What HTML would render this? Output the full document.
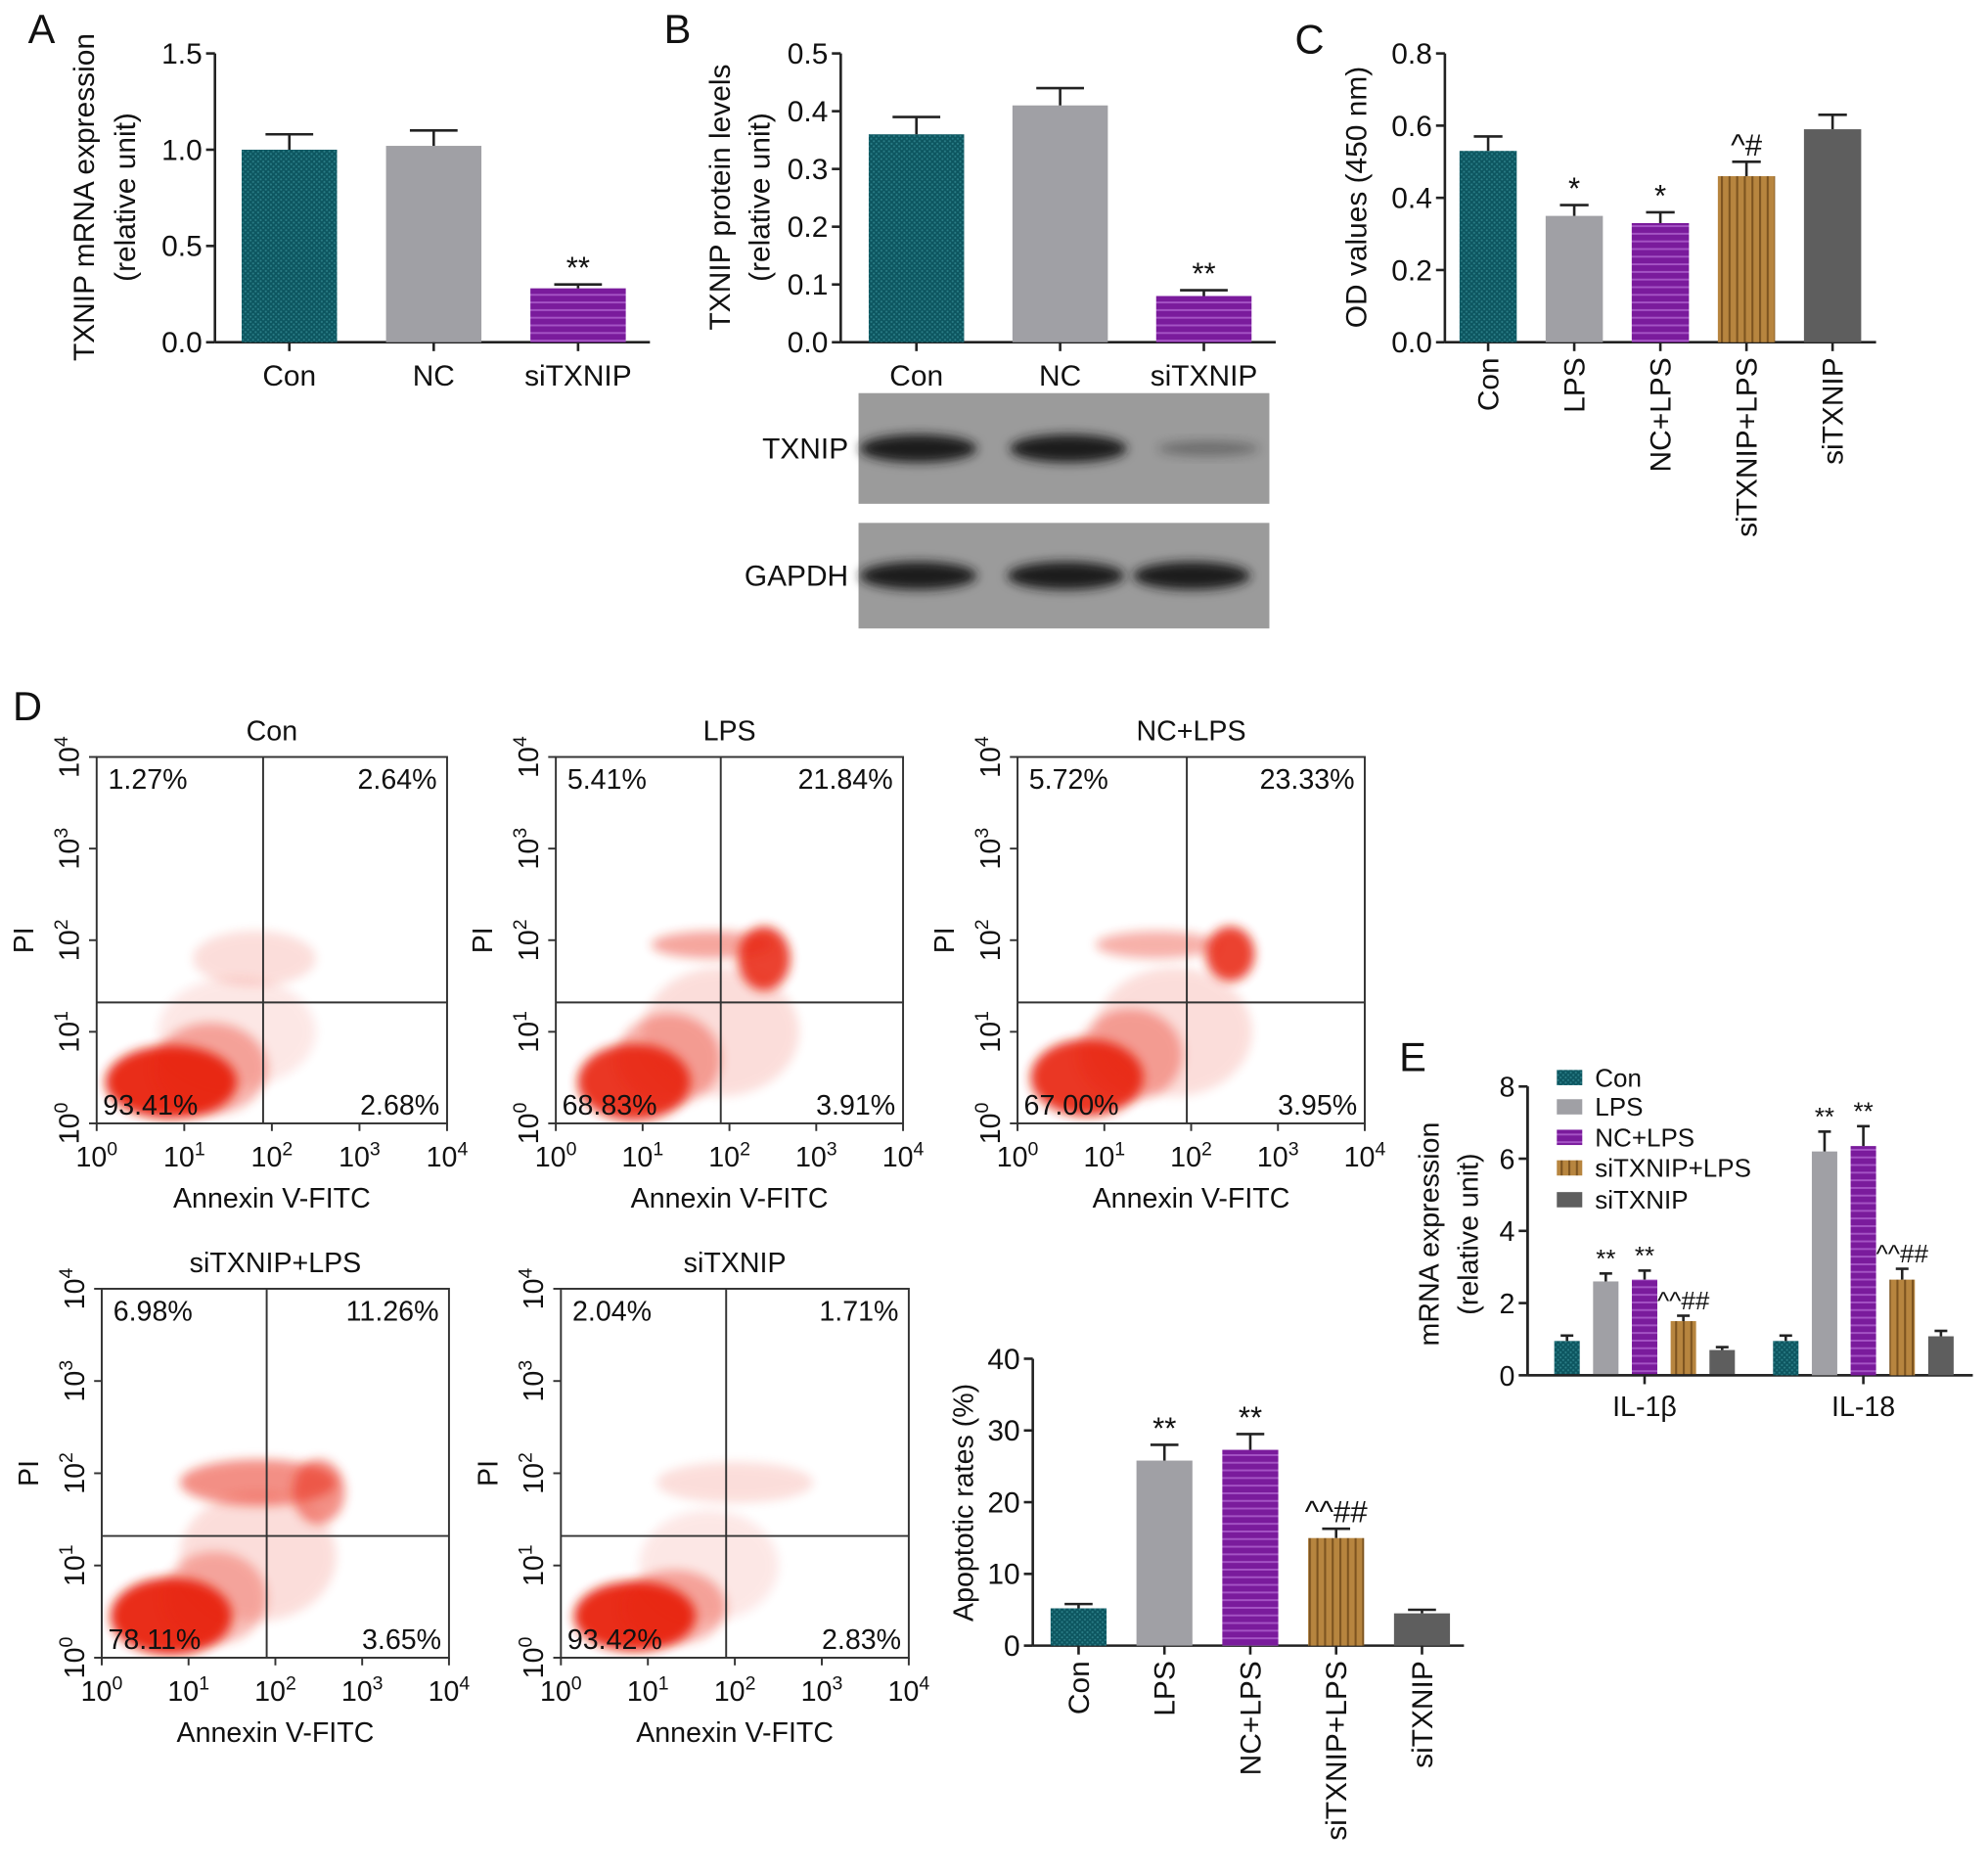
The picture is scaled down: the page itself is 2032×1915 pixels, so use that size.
<!DOCTYPE html>
<html><head><meta charset="utf-8"><style>
html,body{margin:0;padding:0;background:#fff}
svg{display:block}
text{font-family:"Liberation Sans",Arial,sans-serif;fill:#111}
</style></head><body>
<svg id="fig" xmlns="http://www.w3.org/2000/svg" width="2032" height="1915" viewBox="0 0 1563 1473">
<defs>
<pattern id="pTeal" width="4" height="4" patternUnits="userSpaceOnUse"><rect width="4" height="4" fill="#0d5660"/><circle cx="1" cy="1" r="0.8" fill="#2a7d86"/><circle cx="3" cy="3" r="0.8" fill="#2a7d86"/></pattern>
<pattern id="pPurple" width="6" height="6" patternUnits="userSpaceOnUse"><rect width="6" height="6" fill="#7a1b9c"/><rect y="3" width="6" height="1.5" fill="#a453c4"/></pattern>
<pattern id="pBrown" width="6" height="6" patternUnits="userSpaceOnUse"><rect width="6" height="6" fill="#b7853f"/><rect x="3" width="1.6" height="6" fill="#7d5420"/></pattern>
<filter id="blur" x="-50%" y="-50%" width="200%" height="200%"><feGaussianBlur stdDeviation="4"/></filter>
<filter id="blur2" x="-50%" y="-50%" width="200%" height="200%"><feGaussianBlur stdDeviation="4"/></filter>
</defs>
</svg>
<script>
// ---------- data ----------
const aCats = ['Con','NC','siTXNIP'];
const aVals = [1.0, 1.02, 0.28];
const aErrs = [0.08, 0.08, 0.02];
const aMarks = ['', '', '**'];
const aTicks = [0, 0.5, 1.0, 1.5];
const aTickLabels = ['0.0','0.5','1.0','1.5'];

const bCats = ['Con','NC','siTXNIP'];
const bVals = [0.36, 0.41, 0.08];
const bErrs = [0.03, 0.03, 0.01];
const bMarks = ['', '', '**'];
const bTicks = [0, 0.1, 0.2, 0.3, 0.4, 0.5];
const bTickLabels = ['0.0','0.1','0.2','0.3','0.4','0.5'];

const groups5 = ['Con','LPS','NC+LPS','siTXNIP+LPS','siTXNIP'];
const cVals = [0.53, 0.35, 0.33, 0.46, 0.59];
const cErrs = [0.04, 0.03, 0.03, 0.04, 0.04];
const cMarks = ['', '*', '*', '^#', ''];
const cTicks = [0, 0.2, 0.4, 0.6, 0.8];
const cTickLabels = ['0.0','0.2','0.4','0.6','0.8'];

const apVals = [5.2, 25.8, 27.3, 15.0, 4.5];
const apErrs = [0.6, 2.2, 2.2, 1.3, 0.5];
const apMarks = ['', '**', '**', '^^##', ''];
const apTicks = [0, 10, 20, 30, 40];
const apTickLabels = ['0','10','20','30','40'];

const eGenes = ['IL-1β','IL-18'];
const eIL1b = [0.95, 2.6, 2.65, 1.5, 0.7];
const eIL1bErr = [0.15, 0.22, 0.25, 0.15, 0.08];
const eIL18 = [0.95, 6.2, 6.35, 2.65, 1.08];
const eIL18Err = [0.15, 0.55, 0.55, 0.3, 0.15];
const eMarks = ['', '**', '**', '^^##', ''];
const eTicks = [0, 2, 4, 6, 8];
const eTickLabels = ['0','2','4','6','8'];

const flowTitles = ['Con','LPS','NC+LPS','siTXNIP+LPS','siTXNIP'];
const flowUL = ['1.27%','5.41%','5.72%','6.98%','2.04%'];
const flowUR = ['2.64%','21.84%','23.33%','11.26%','1.71%'];
const flowLL = ['93.41%','68.83%','67.00%','78.11%','93.42%'];
const flowLR = ['2.68%','3.91%','3.95%','3.65%','2.83%'];
const flowGateX = [1.9, 1.9, 1.95, 1.9, 1.9];
const flowGateY = [1.32, 1.32, 1.32, 1.32, 1.32];
// clusters: [cx(log), cy(log), rx(log), ry(log), opacity]
const flowClusters = [
 [[0.85,0.45,0.75,0.4,0.95],[1.3,0.6,0.65,0.5,0.35],[1.8,1.8,0.7,0.3,0.15],[1.6,1.0,0.9,0.6,0.1]],
 [[0.9,0.45,0.65,0.42,0.9],[1.3,0.7,0.6,0.5,0.35],[2.4,1.8,0.3,0.35,0.85],[1.8,1.95,0.7,0.15,0.4],[1.9,1.0,0.9,0.7,0.15]],
 [[0.8,0.5,0.65,0.42,0.9],[1.3,0.75,0.6,0.5,0.35],[2.45,1.85,0.28,0.3,0.85],[1.6,1.95,0.7,0.15,0.35],[1.8,1.0,0.9,0.7,0.15]],
 [[0.8,0.45,0.7,0.42,0.95],[1.3,0.65,0.6,0.5,0.3],[1.8,1.9,0.9,0.25,0.5],[2.5,1.8,0.3,0.35,0.5],[1.8,1.1,0.9,0.7,0.15]],
 [[0.85,0.45,0.7,0.38,0.95],[1.3,0.55,0.6,0.4,0.35],[2.0,1.9,0.9,0.22,0.15],[1.7,1.0,0.8,0.6,0.1]]
];

// ---------- helpers ----------
const NS='http://www.w3.org/2000/svg';
const svg=document.getElementById('fig');
function mk(tag, attrs, parent){const e=document.createElementNS(NS,tag);for(const k in attrs)e.setAttribute(k,attrs[k]);(parent||svg).appendChild(e);return e;}
function txt(x,y,s,size,anchor,parent,extra){const t=mk('text',Object.assign({x:x,y:y,'font-size':size,'text-anchor':anchor||'middle'},extra||{}),parent);t.textContent=s;return t;}
const fills=['url(#pTeal)','#a0a0a5','url(#pPurple)','url(#pBrown)','#5e5e5e'];

function barChart(o){
  const g=mk('g',{});
  
  
  const yS=v=>o.bottom-(v/o.max)*(o.bottom-o.top);
  const xS=i=>o.start+i*o.step;
  const ya=mk('line',{x1:o.axisX,y1:o.top,x2:o.axisX,y2:o.bottom,stroke:'#222','stroke-width':2},g);
  
  
  const xa=mk('line',{x1:o.axisX,y1:o.bottom,x2:o.right,y2:o.bottom,stroke:'#222','stroke-width':2},g);
  
  
  o.ticks.forEach((t,i)=>{
    mk('line',{x1:o.axisX-7,y1:yS(t),x2:o.axisX,y2:yS(t),stroke:'#222','stroke-width':2},g);
    const tl=txt(o.axisX-10,yS(t)+8,o.tickLabels[i],o.fs,'end',g);
    
    
  });
  o.vals.forEach((v,i)=>{
    const cx=xS(i)+(o.offset||0);
    const r=mk('rect',{x:cx-o.w/2,y:yS(v),width:o.w,height:o.bottom-yS(v),fill:o.fills[i]},g);
    
    
    const et=yS(v+o.errs[i]);
    mk('line',{x1:cx,y1:yS(v),x2:cx,y2:et,stroke:'#222','stroke-width':2},g);
    mk('line',{x1:cx-o.w/4,y1:et,x2:cx+o.w/4,y2:et,stroke:'#222','stroke-width':2},g);
    if(o.marks[i]){const m=txt(cx,et-5,o.marks[i],o.mfs||24,'middle',g);
      
      }
    if(o.tickX){mk('line',{x1:cx,y1:o.bottom,x2:cx,y2:o.bottom+7,stroke:'#222','stroke-width':2},g);}
    if(o.catMode==='h'){const c=txt(cx,o.bottom+34,o.cats[i],o.fs,'middle',g);
      
      }
    else if(o.catMode==='v'){const c=txt(0,0,o.cats[i],o.fs,'end',g,{transform:`translate(${cx+8},${o.bottom+12}) rotate(-90)`});
      
      }
  });
  return g;
}

// ---------- panel letters ----------
[['A',22,34],['B',522,34],['C',1018,42],['D',10,566],['E',1100,842]].forEach(p=>{
  const l=txt(p[1],p[2],p[0],32,'start');
  
  
});

// ---------- A ----------
barChart({name:'chart-a-mrna',axisX:169,top:42,bottom:269,right:511,max:1.5,ticks:aTicks,tickLabels:aTickLabels,
  start:227.5,step:113.5,w:75,vals:aVals,errs:aErrs,marks:aMarks,cats:aCats,fills:[fills[0],fills[1],fills[2]],fs:23,catMode:'h',tickX:true});
let t=txt(0,0,'TXNIP mRNA expression',23,'middle',svg,{transform:'translate(74,155) rotate(-90)'});


t=txt(0,0,'(relative unit)',23,'middle',svg,{transform:'translate(106,155) rotate(-90)'});



// ---------- B ----------
barChart({name:'chart-b-protein',axisX:661,top:42,bottom:269,right:1003,max:0.5,ticks:bTicks,tickLabels:bTickLabels,
  start:720.5,step:113,w:75,vals:bVals,errs:bErrs,marks:bMarks,cats:bCats,fills:[fills[0],fills[1],fills[2]],fs:23,catMode:'h',tickX:true});
t=txt(0,0,'TXNIP protein levels',23,'middle',svg,{transform:'translate(574,155) rotate(-90)'});


t=txt(0,0,'(relative unit)',23,'middle',svg,{transform:'translate(605,155) rotate(-90)'});


const blotBands=[[722,840,950],[722,838,937]];
const blotAlpha=[[1,1,0.35],[1,1,1]];
[['TXNIP',309,396],['GAPDH',411,494]].forEach((b,bi)=>{
  const r=mk('rect',{x:675,y:b[1],width:323,height:b[2]-b[1],fill:'#9b9b9b'});
  
  
  blotBands[bi].forEach((cx,k)=>{
    const e=mk('ellipse',{cx:cx,cy:(b[1]+b[2])/2,rx:bi===0&&k===2?40:46,ry:bi===0&&k===2?6:11,fill:'#1a1a1a',opacity:blotAlpha[bi][k],filter:'url(#blur)'});
    
    
  });
  const l=txt(667,(b[1]+b[2])/2+8,b[0],23,'end');
  
  
});

// ---------- C ----------
barChart({name:'chart-c-od',axisX:1136,top:42,bottom:269,right:1475,max:0.8,ticks:cTicks,tickLabels:cTickLabels,
  start:1170,step:67.7,w:45,vals:cVals,errs:cErrs,marks:cMarks,cats:groups5,fills:fills,fs:23,catMode:'v',tickX:true});
t=txt(0,0,'OD values (450 nm)',23,'middle',svg,{transform:'translate(1074,155) rotate(-90)'});



// ---------- D flow plots ----------
const flowBoxes=[[76,595,351.5,883],[437,595,710,883],[800,595,1073,883],[80,1013,353,1303],[441,1013,714.5,1303]];
flowTitles.forEach((title,p)=>{
  const [x0,y0,x1,y1]=flowBoxes[p];
  const g=mk('g',{});
  
  
  const xS=v=>x0+v/4*(x1-x0), yS=v=>y1-v/4*(y1-y0);
  const cp=mk('clipPath',{id:'clip'+p},g);
  mk('rect',{x:x0,y:y0,width:x1-x0,height:y1-y0},cp);
  const cg=mk('g',{'clip-path':`url(#clip${p})`},g);
  flowClusters[p].forEach(c=>{
    const e=mk('ellipse',{cx:xS(c[0]),cy:yS(c[1]),rx:c[2]/4*(x1-x0),ry:c[3]/4*(y1-y0),fill:'#e8210b',opacity:c[4],filter:'url(#blur2)'},cg);
    
    
  });
  const b=mk('rect',{x:x0,y:y0,width:x1-x0,height:y1-y0,fill:'none',stroke:'#333','stroke-width':1.5},g);
  
  
  const gv=mk('line',{x1:xS(flowGateX[p]),y1:y0,x2:xS(flowGateX[p]),y2:y1,stroke:'#333','stroke-width':1.5},g);
  
  
  const gh=mk('line',{x1:x0,y1:yS(flowGateY[p]),x2:x1,y2:yS(flowGateY[p]),stroke:'#333','stroke-width':1.5},g);
  
  
  for(let k=0;k<=4;k++){
    mk('line',{x1:xS(k),y1:y1,x2:xS(k),y2:y1+6,stroke:'#333','stroke-width':1.5},g);
    mk('line',{x1:x0-6,y1:yS(k),x2:x0,y2:yS(k),stroke:'#333','stroke-width':1.5},g);
    const xl=mk('text',{x:xS(k),y:y1+34,'font-size':22,'text-anchor':'middle'},g);
    xl.innerHTML='10<tspan dy="-9" font-size="15">'+k+'</tspan>';
    
    
    const yl=mk('text',{'font-size':22,'text-anchor':'middle',transform:`translate(${x0-14},${yS(k)}) rotate(-90)`},g);
    yl.innerHTML='10<tspan dy="-9" font-size="15">'+k+'</tspan>';
    
    
  }
  let q=txt((x0+x1)/2,y0-13,title,22,'middle',g);  
  q=txt(x0+9,y0+25,flowUL[p],22,'start',g);  
  q=txt(x1-8,y0+25,flowUR[p],22,'end',g);  
  q=txt(x0+5,y1-7,flowLL[p],22,'start',g);  
  q=txt(x1-6,y1-7,flowLR[p],22,'end',g);  
  q=txt((x0+x1)/2,y1+66,'Annexin V-FITC',22,'middle',g);  
  q=txt(0,0,'PI',22,'middle',g,{transform:`translate(${x0-50},${(y0+y1)/2}) rotate(-90)`});  
});

// ---------- apoptotic rates ----------
barChart({name:'chart-d-apoptotic-rates',axisX:812,top:1068,bottom:1293.5,right:1151,max:40,ticks:apTicks,tickLabels:apTickLabels,
  start:848,step:67.5,w:44,vals:apVals,errs:apErrs,marks:apMarks,cats:groups5,fills:fills,fs:23,catMode:'v',tickX:true});
t=txt(0,0,'Apoptotic rates (%)',22,'middle',svg,{transform:'translate(765,1181) rotate(-90)'});



// ---------- E ----------
const eNames=groups5.map(s=>s);
barChart({name:'chart-e-il1b',axisX:1201,top:854,bottom:1081,right:1551,max:8,ticks:eTicks,tickLabels:eTickLabels,
  start:1232,step:30.5,w:20,vals:eIL1b,errs:eIL1bErr,marks:eMarks,cats:eNames,fills:fills,fs:22,mfs:20,catMode:'none'});
barChart({name:'chart-e-il18',axisX:1201,top:854,bottom:1081,right:1551,max:8,ticks:[],tickLabels:[],
  start:1404,step:30.5,w:20,vals:eIL18,errs:eIL18Err,marks:eMarks,cats:eNames,fills:fills,fs:22,mfs:20,catMode:'none'});
eGenes.forEach((gname,i)=>{
  const cx=1293+i*172;
  mk('line',{x1:cx,y1:1081,x2:cx,y2:1088,stroke:'#222','stroke-width':2});
  const l=txt(cx,1113,gname,22,'middle');
  
  
});
t=txt(0,0,'mRNA expression',22,'middle',svg,{transform:'translate(1131,970) rotate(-90)'});


t=txt(0,0,'(relative unit)',22,'middle',svg,{transform:'translate(1162,970) rotate(-90)'});


const legY=[847,870,894,918,943];
groups5.forEach((gname,i)=>{
  const r=mk('rect',{x:1224,y:legY[i]-6,width:20,height:12,fill:fills[i]});
  
  
  const l=txt(1254,legY[i]+7,gname,20,'start');
  
  
});
</script>
</body></html>
